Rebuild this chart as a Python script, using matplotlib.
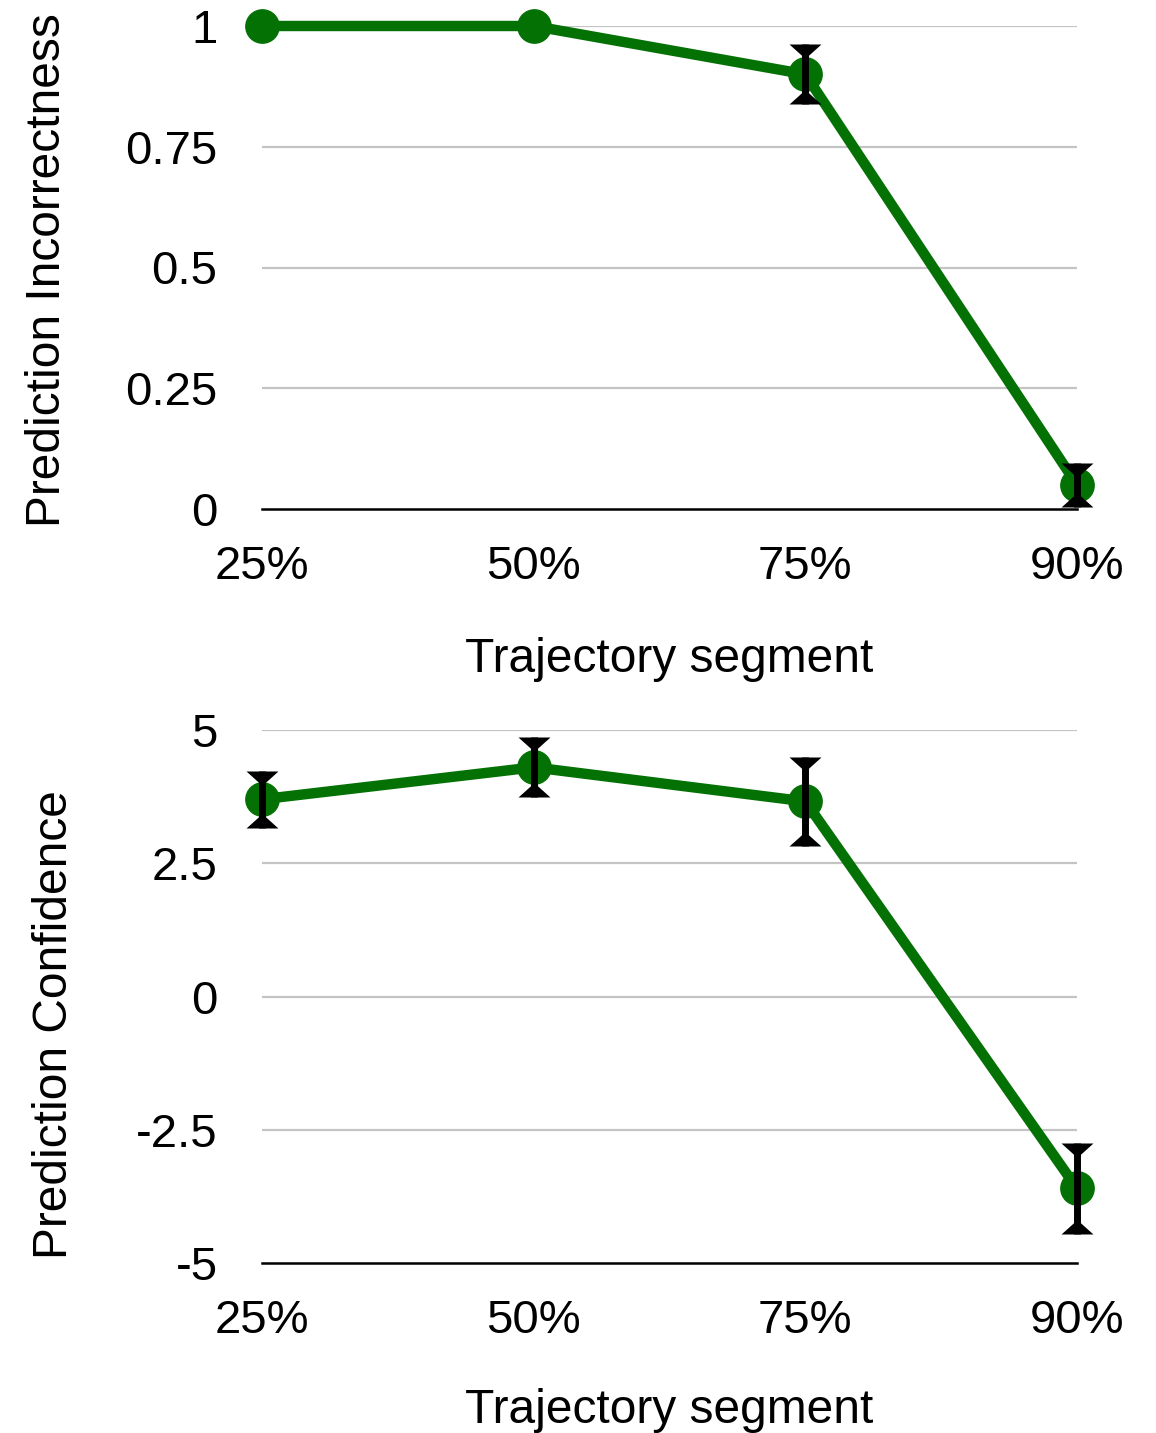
import matplotlib.pyplot as plt
from matplotlib.path import Path
import numpy as np

plt.rcParams["font.family"] = ["Liberation Sans", "DejaVu Sans"]

segments = ["25%", "50%", "75%", "90%"]

incorrectness = [1.0, 1.0, 0.90, 0.05]
incorrectness_err = [0.0, 0.0, 0.062, 0.045]

confidence = [3.70, 4.30, 3.66, -3.60]
confidence_err = [0.54, 0.56, 0.83, 0.85]

GREEN = "#047104"
GRID = "#c4c4c4"

# flared caps: flat edge sits on the bar end, apex points back at the mean
CAP_TOP = Path([(-1, 0), (1, 0), (0, -0.9), (-1, 0)],
               [Path.MOVETO, Path.LINETO, Path.LINETO, Path.CLOSEPOLY])
CAP_BOT = Path([(-1, 0), (1, 0), (0, 0.9), (-1, 0)],
               [Path.MOVETO, Path.LINETO, Path.LINETO, Path.CLOSEPOLY])


def draw(ax, vals, errs, ticks, ylabel, label_x, label_y, xlabel_y):
    x = np.arange(len(vals))
    vals = np.asarray(vals)
    errs = np.asarray(errs)
    ax.plot(x, vals, color=GREEN, lw=7.5, marker="o", ms=24,
            solid_capstyle="butt", clip_on=False, zorder=3)
    has = errs > 0
    ax.vlines(x[has], (vals - errs)[has], (vals + errs)[has],
              color="black", lw=5, zorder=4, clip_on=False)
    ax.plot(x[has], (vals + errs)[has], ls="none", marker=CAP_TOP, ms=23,
            color="black", mew=0, zorder=4, clip_on=False)
    ax.plot(x[has], (vals - errs)[has], ls="none", marker=CAP_BOT, ms=23,
            color="black", mew=0, zorder=4, clip_on=False)

    ax.set_xlim(0, len(vals) - 1)
    ax.set_ylim(ticks[0], ticks[-1])
    ax.set_xticks(x)
    ax.set_xticklabels(segments)
    ax.set_yticks(ticks)
    ax.set_yticklabels([f"{t:g}" for t in ticks])
    ax.tick_params(length=0, labelsize=34)
    ax.tick_params(axis="y", pad=32)
    ax.tick_params(axis="x", pad=26)
    for t in ticks[1:]:
        ax.axhline(t, color=GRID, lw=1.6, zorder=1)
    for s in ("top", "right", "left"):
        ax.spines[s].set_visible(False)
    ax.spines["bottom"].set_linewidth(1.8)
    ax.spines["bottom"].set_zorder(2)

    ax.set_xlabel("Trajectory segment", fontsize=34.5)
    ax.xaxis.set_label_coords(0.5, xlabel_y)
    ax.set_ylabel(ylabel, fontsize=34.5)
    ax.yaxis.set_label_coords(label_x, label_y)


fig = plt.figure(figsize=(11.56, 14.33), dpi=100)
left, width = 262 / 1156, 815 / 1156

ax1 = fig.add_axes([left, 1 - 509 / 1433, width, 483 / 1433])
draw(ax1, incorrectness, incorrectness_err, [0, 0.25, 0.5, 0.75, 1],
     "Prediction Incorrectness", -0.236, 0.495, -0.266)

ax2 = fig.add_axes([left, 1 - 1263 / 1433, width, 533 / 1433])
draw(ax2, confidence, confidence_err, [-5, -2.5, 0, 2.5, 5],
     "Prediction Confidence", -0.227, 0.448, -0.234)

fig.savefig("out.png", dpi=100)
